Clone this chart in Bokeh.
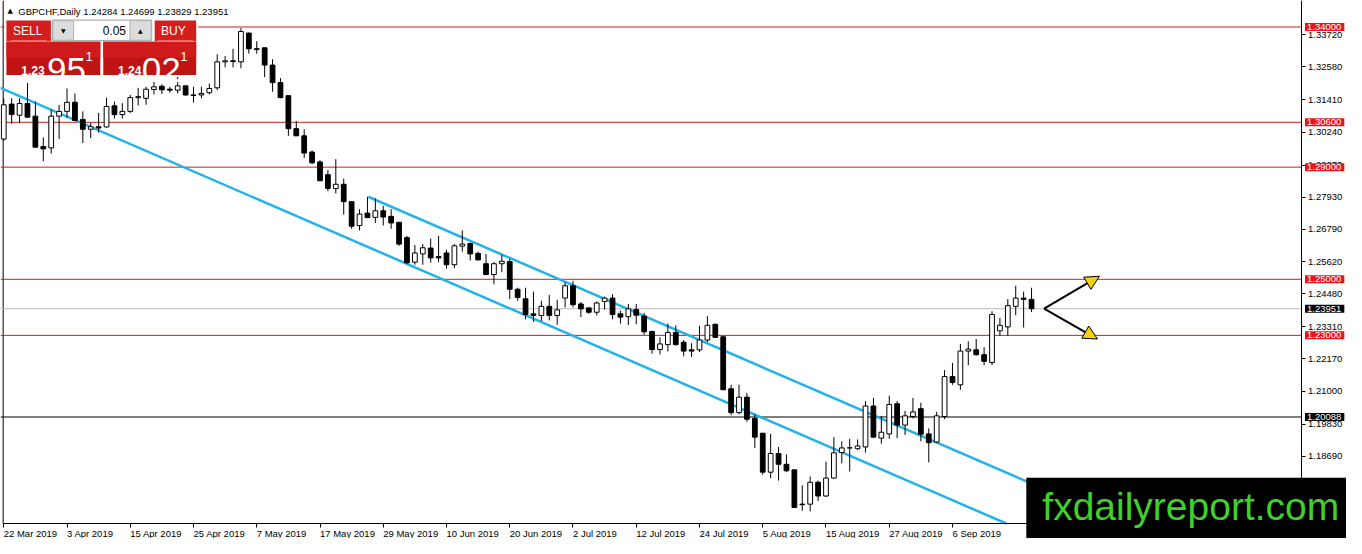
from bokeh.plotting import figure
from bokeh.models import (Range1d, FixedTicker, Label, BoxAnnotation, Arrow,
                          NormalHead, ColumnDataSource, PrintfTickFormatter)
from bokeh.embed import file_html
from bokeh.resources import INLINE

# ---------------- data ----------------
symbol = "GBPCHF,Daily"
date_labels = ["22 Mar 2019", "3 Apr 2019", "15 Apr 2019", "25 Apr 2019", "7 May 2019",
               "17 May 2019", "29 May 2019", "10 Jun 2019", "20 Jun 2019", "2 Jul 2019",
               "12 Jul 2019", "24 Jul 2019", "5 Aug 2019", "15 Aug 2019", "27 Aug 2019",
               "6 Sep 2019"]
bars_per_label = 8

opens = [1.30003, 1.31249, 1.30854, 1.31270, 1.30819, 1.29737, 1.29688, 1.30819, 1.30990, 1.31315,
         1.30700, 1.30353, 1.30444, 1.30434, 1.31190, 1.30875, 1.30990, 1.31480, 1.31456, 1.31771,
         1.31886, 1.31781, 1.31746, 1.31900, 1.31575, 1.31575, 1.31655, 1.31830, 1.32757, 1.32793,
         1.32757, 1.33783, 1.33223, 1.33258, 1.32642, 1.32016, 1.31550, 1.30374, 1.30118, 1.29538,
         1.29188, 1.28733, 1.28236, 1.28390, 1.27770, 1.26920, 1.27361, 1.27210, 1.27444, 1.27245,
         1.27035, 1.26486, 1.25611, 1.25905, 1.26115, 1.25810, 1.25940, 1.25520, 1.26184, 1.26276,
         1.25925, 1.25555, 1.25170, 1.25555, 1.25635, 1.24645, 1.24305, 1.23770, 1.23710, 1.24036,
         1.23710, 1.24330, 1.24770, 1.24120, 1.23980, 1.23825, 1.24211, 1.24330, 1.23770, 1.23665,
         1.23920, 1.23686, 1.23140, 1.22495, 1.22670, 1.23105, 1.22755, 1.22485, 1.22485, 1.22835,
         1.23395, 1.22950, 1.21095, 1.20245, 1.20795, 1.20035, 1.19510, 1.18120, 1.18786, 1.18401,
         1.18205, 1.16980, 1.16980, 1.17760, 1.17270, 1.17910, 1.18820, 1.18985, 1.18960, 1.19020,
         1.20480, 1.19335, 1.19485, 1.20560, 1.19800, 1.20105, 1.20385, 1.19485, 1.19195, 1.20105,
         1.21530, 1.21236, 1.22440, 1.22485, 1.22310, 1.22030, 1.23160, 1.23300, 1.24036, 1.24330,
         1.24284]
highs = [1.31456, 1.31456, 1.31456, 1.32002, 1.31340, 1.30063, 1.31050, 1.31224, 1.31806, 1.31630,
         1.30990, 1.30584, 1.30934, 1.31480, 1.31340, 1.31281, 1.31575, 1.31830, 1.31865, 1.32040,
         1.31956, 1.31865, 1.32215, 1.31900, 1.31865, 1.31865, 1.31980, 1.33027, 1.32968, 1.33223,
         1.33958, 1.33800, 1.33493, 1.33258, 1.32852, 1.32177, 1.31550, 1.30644, 1.30353, 1.29597,
         1.29247, 1.28897, 1.29286, 1.28586, 1.27770, 1.27501, 1.27945, 1.27885, 1.27620, 1.27501,
         1.27035, 1.26545, 1.26220, 1.26255, 1.26451, 1.26545, 1.26055, 1.26255, 1.26745, 1.26311,
         1.25985, 1.25905, 1.25611, 1.25870, 1.25730, 1.24700, 1.24700, 1.24560, 1.24235, 1.24445,
         1.24270, 1.24890, 1.24935, 1.24190, 1.23999, 1.24211, 1.24386, 1.24470, 1.23885, 1.24120,
         1.24120, 1.23805, 1.23161, 1.22930, 1.23420, 1.23360, 1.22835, 1.22720, 1.23336, 1.23686,
         1.23420, 1.22985, 1.21236, 1.21236, 1.20945, 1.20186, 1.19510, 1.19485, 1.19020, 1.18751,
         1.18205, 1.17655, 1.17970, 1.17820, 1.18495, 1.19370, 1.19220, 1.19310, 1.19290, 1.20655,
         1.20770, 1.20130, 1.20850, 1.20655, 1.20305, 1.20770, 1.20595, 1.19685, 1.20270, 1.21760,
         1.22020, 1.22695, 1.22790, 1.22870, 1.22580, 1.23861, 1.23630, 1.24295, 1.24770, 1.24560,
         1.24699]
lows = [1.29940, 1.30549, 1.30584, 1.30759, 1.29713, 1.29212, 1.29481, 1.30003, 1.30759, 1.30644,
        1.29863, 1.30038, 1.30234, 1.30409, 1.30735, 1.30735, 1.30934, 1.31200, 1.31224, 1.31595,
        1.31609, 1.31655, 1.31630, 1.31550, 1.31305, 1.31456, 1.31595, 1.31746, 1.32562, 1.32562,
        1.32527, 1.33048, 1.33048, 1.32212, 1.31690, 1.31456, 1.30118, 1.30118, 1.29328, 1.29107,
        1.28516, 1.28141, 1.28061, 1.27305, 1.26801, 1.26745, 1.27200, 1.27010, 1.26920, 1.26801,
        1.26195, 1.25555, 1.25520, 1.25520, 1.25590, 1.25611, 1.25380, 1.25401, 1.25985, 1.25670,
        1.25670, 1.25145, 1.24820, 1.25260, 1.24295, 1.24235, 1.23570, 1.23476, 1.23510, 1.23535,
        1.23378, 1.23999, 1.23999, 1.23651, 1.23770, 1.23710, 1.23920, 1.23570, 1.23420, 1.23370,
        1.23395, 1.23021, 1.22345, 1.22320, 1.22425, 1.22635, 1.22251, 1.22230, 1.22405, 1.22755,
        1.22905, 1.21060, 1.20151, 1.20186, 1.19920, 1.18985, 1.18030, 1.17910, 1.17820, 1.18120,
        1.16860, 1.16745, 1.16720, 1.17095, 1.17235, 1.17890, 1.18435, 1.18145, 1.18905, 1.18820,
        1.19335, 1.19135, 1.19310, 1.19335, 1.19450, 1.20035, 1.19220, 1.18470, 1.19170, 1.20010,
        1.21236, 1.21060, 1.21935, 1.22285, 1.21935, 1.21935, 1.22985, 1.22985, 1.23720, 1.23280,
        1.23829]
closes = [1.31224, 1.30875, 1.31270, 1.30784, 1.29713, 1.29653, 1.30819, 1.30990, 1.31315, 1.30665,
          1.30353, 1.30444, 1.30398, 1.31165, 1.30875, 1.30990, 1.31480, 1.31515, 1.31781, 1.31865,
          1.31760, 1.31746, 1.31900, 1.31575, 1.31560, 1.31630, 1.31806, 1.32757, 1.32793, 1.32770,
          1.33839, 1.33223, 1.33200, 1.32642, 1.32016, 1.31480, 1.30374, 1.30118, 1.29503, 1.29156,
          1.28516, 1.28243, 1.28390, 1.27770, 1.26895, 1.27326, 1.27200, 1.27444, 1.27221, 1.27010,
          1.26255, 1.25590, 1.25940, 1.26125, 1.25765, 1.25765, 1.25520, 1.26195, 1.26255, 1.25905,
          1.25694, 1.25170, 1.25555, 1.25645, 1.24645, 1.24350, 1.23745, 1.23710, 1.24036, 1.23710,
          1.23910, 1.24770, 1.24095, 1.23945, 1.23825, 1.24155, 1.24330, 1.23745, 1.23651, 1.23945,
          1.23720, 1.23126, 1.22495, 1.22695, 1.23105, 1.22670, 1.22440, 1.22440, 1.22835, 1.23360,
          1.22930, 1.21060, 1.20245, 1.20795, 1.20010, 1.19370, 1.18120, 1.18786, 1.18401, 1.18170,
          1.16860, 1.16960, 1.17760, 1.17270, 1.17910, 1.18810, 1.18985, 1.18990, 1.19055, 1.20480,
          1.19370, 1.19545, 1.20535, 1.19800, 1.20130, 1.20270, 1.19475, 1.19170, 1.20130, 1.21530,
          1.21320, 1.22440, 1.22510, 1.22310, 1.22075, 1.23745, 1.23360, 1.24060, 1.24330, 1.24284,
          1.23951]

price_ticks = [1.33720, 1.32580, 1.31410, 1.30240, 1.29070, 1.27930, 1.26790, 1.25620,
               1.24480, 1.23310, 1.22170, 1.21000, 1.19830, 1.18690, 1.17520]
red_levels = [1.34000, 1.30600, 1.29000, 1.25000, 1.23000]
black_level = 1.20088
lot_size = "0.05"
sell_quote = ["1.23", "95", "1"]
buy_quote = ["1.24", "02", "1"]
watermark = "fxdailyreport.com"

# channel trend lines: (bar index, price) anchors
upper_channel_idx = [46.1, 136.0]
upper_channel_px = [1.27945, 1.16982]
lower_channel_idx = [-0.41, 126.8]
lower_channel_px = [1.31830, 1.16290]

# ---------------- helpers: reference pixel -> data ----------------
def X(px):
    return (px - 3.3) / 8.0

def Y(py):
    return 1.34945 - 0.00035 * py

n = len(opens)
idx = list(range(n))
src = ColumnDataSource(dict(
    x=idx, o=opens, h=highs, l=lows, c=closes,
    top=[max(a, b) for a, b in zip(opens, closes)],
    bot=[min(a, b) for a, b in zip(opens, closes)],
    fill=["white" if c >= o else "black" for o, c in zip(opens, closes)],
))

FONT = "Liberation Sans"
AXIS_RIGHT = X(1316)     # where the price scale sits
AXIS_BOTTOM = Y(533)     # where the time scale sits

p = figure(width=1346, height=538, output_backend="svg", toolbar_location=None, title=None,
           x_range=Range1d(X(0), X(1362)), y_range=Range1d(Y(548.3), Y(0)),
           y_axis_location="right", min_border=0, min_border_left=0, min_border_top=0,
           min_border_right=0, min_border_bottom=0,
           background_fill_color="white", border_fill_color="white")
p.grid.visible = False
p.outline_line_color = None

# price axis (real axis, pinned at the chart's right edge)
p.yaxis.fixed_location = AXIS_RIGHT
p.yaxis.bounds = (AXIS_BOTTOM, Y(0))
p.yaxis.ticker = FixedTicker(ticks=price_ticks)
p.yaxis.formatter = PrintfTickFormatter(format="%.5f")
p.yaxis.major_label_text_font = FONT
p.yaxis.major_label_text_font_size = "9.5px"
p.yaxis.major_label_text_color = "black"
p.yaxis.major_tick_out = 4
p.yaxis.major_tick_in = 0
p.yaxis.minor_tick_line_color = None
p.yaxis.major_label_standoff = 3
p.yaxis.axis_line_color = "black"

# time axis (real axis, pinned at the chart's bottom edge)
tick_idx = [k * bars_per_label for k in range(len(date_labels))]
p.xaxis.fixed_location = AXIS_BOTTOM
p.xaxis.bounds = (X(2.7), AXIS_RIGHT)
p.xaxis.ticker = FixedTicker(ticks=tick_idx)
p.xaxis.major_label_overrides = {t: lab for t, lab in zip(tick_idx, date_labels)}
p.xaxis.major_label_text_font = FONT
p.xaxis.major_label_text_font_size = "9.5px"
p.xaxis.major_label_text_color = "black"
p.xaxis.major_label_orientation = -0.0001
p.xaxis.major_tick_out = 4
p.xaxis.major_tick_in = 0
p.xaxis.minor_tick_line_color = None
p.xaxis.major_label_standoff = 6
p.xaxis.axis_line_color = "black"

# left chart border
p.segment(x0=[X(2.7)], y0=[Y(0)], x1=[X(2.7)], y1=[AXIS_BOTTOM], line_color="black", line_width=1)

# horizontal levels (stop at the price axis)
p.segment(x0=[X(0)] * len(red_levels), y0=red_levels, x1=[AXIS_RIGHT] * len(red_levels),
          y1=red_levels, line_color="#c81e1e", line_width=1)
p.segment(x0=[X(0)], y0=[closes[-1]], x1=[AXIS_RIGHT], y1=[closes[-1]],
          line_color="#bdbdbd", line_width=1)
p.segment(x0=[X(0)], y0=[black_level], x1=[AXIS_RIGHT], y1=[black_level],
          line_color="black", line_width=1)

# channel lines
p.line(upper_channel_idx, upper_channel_px, line_color="#23b3e8", line_width=2.5)
p.line(lower_channel_idx, lower_channel_px, line_color="#23b3e8", line_width=2.5)

# candles
p.segment(x0="x", y0="l", x1="x", y1="h", source=src, line_color="black", line_width=1)
p.vbar(x="x", width=0.6, top="top", bottom="bot", source=src, fill_color="fill",
       line_color="black", line_width=1)

# arrows
head_kw = dict(fill_color="#f3d014", line_color="black", line_width=1, size=14)
p.add_layout(Arrow(end=NormalHead(**head_kw), x_start=X(1056), y_start=Y(314),
                   x_end=X(1112), y_end=Y(281), line_width=2, line_color="black"))
p.add_layout(Arrow(end=NormalHead(**head_kw), x_start=X(1056), y_start=Y(314),
                   x_end=X(1110), y_end=Y(345), line_width=2, line_color="black"))

# header
p.add_layout(Label(x=X(7), y=Y(11), text="\u25b2", text_font="DejaVu Sans",
                   text_font_size="7px", text_baseline="middle", text_color="black"))
p.add_layout(Label(x=X(18), y=Y(11),
                   text=f"{symbol}  {opens[-1]:.5f} {highs[-1]:.5f} {lows[-1]:.5f} {closes[-1]:.5f}",
                   text_font=FONT, text_font_size="9.5px", text_baseline="middle",
                   text_color="black"))

# one-click trading panel
def box(l, r, t, b, color, line=None):
    p.add_layout(BoxAnnotation(left=X(l), right=X(r), top=Y(t), bottom=Y(b),
                               fill_color=color, fill_alpha=1.0,
                               line_color=line, line_alpha=1.0 if line else 0.0, line_width=1))

box(4, 200, 18, 78, "white")
box(6, 51, 20.5, 41.5, "#d41e1e")
box(156, 198, 20.5, 41.5, "#d41e1e")
box(52.5, 153, 20, 41, "white", "#9a9a9a")
box(53, 74, 20.5, 40.5, "#dcdcdc", "#b0b0b0")
box(131, 152.5, 20.5, 40.5, "#dcdcdc", "#b0b0b0")
box(6, 101, 42, 76, "#c01414")
box(104, 198, 42, 76, "#c01414")
box(6, 101, 42, 58, "#cf1b1b")
box(104, 198, 42, 58, "#cf1b1b")
box(10, 47, 40.5, 41.5, "#f08080")
box(159, 195, 40.5, 41.5, "#f08080")

def lab(x, y, text, size, color="white", align="left", baseline="alphabetic",
        font=FONT, style="normal"):
    p.add_layout(Label(x=X(x), y=Y(y), text=text, text_font=font, text_font_size=size,
                       text_color=color, text_align=align, text_baseline=baseline,
                       text_font_style=style))

lab(27.5, 31, "SELL", "12px", align="center", baseline="middle")
lab(175, 31, "BUY", "12px", align="center", baseline="middle")
lab(127, 30.5, lot_size, "12px", color="black", align="right", baseline="middle")
lab(63.5, 30.5, "\u25bc", "6px", color="black", align="center", baseline="middle", font="DejaVu Sans")
lab(141.5, 30.5, "\u25b2", "6px", color="black", align="center", baseline="middle", font="DejaVu Sans")
lab(21, 71, sell_quote[0], "12px", style="bold")
lab(47, 71, sell_quote[1], "35px")
lab(86, 57, sell_quote[2], "13px")
lab(119, 71, buy_quote[0], "12px", style="bold")
lab(143, 71, buy_quote[1], "35px")
lab(182, 57, buy_quote[2], "13px")

# price boxes on the price scale
def price_box(level, bg):
    p.add_layout(Label(x=X(1320), y=level, text=f"{level:.5f}", text_font=FONT,
                       text_font_size="9.5px", text_color="white", text_baseline="middle",
                       background_fill_color=bg, background_fill_alpha=1.0,
                       padding=dict(left=2, right=3, top=1, bottom=1)))

for lv in red_levels:
    price_box(lv, "#e8141c")
price_box(closes[-1], "black")
price_box(black_level, "black")

# watermark
p.add_layout(Label(x=X(1038), y=Y(524), text=watermark, text_font=FONT,
                   text_font_size="39px", text_color="#3fd02a", text_baseline="alphabetic",
                   background_fill_color="black", background_fill_alpha=1.0,
                   padding=dict(left=16, right=40, top=7, bottom=24)))

open("out.html", "w").write(file_html(p, INLINE))
